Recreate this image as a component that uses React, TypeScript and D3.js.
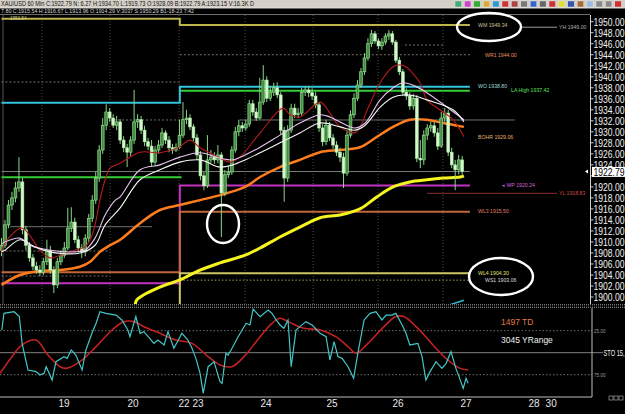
import React from "react";
import * as d3 from "d3";

// ---------------- data ----------------
const opens = [
  1908.5, 1909.4, 1913.1, 1916.7, 1918.0, 1919.8, 1920.9, 1912.2, 1909.4, 1907.1,
  1905.6, 1904.9, 1904.5, 1906.4, 1908.5, 1904.9, 1902.2, 1906.4, 1907.6, 1908.9,
  1912.5, 1913.6, 1910.4, 1908.9, 1908.2, 1910.7, 1914.3, 1917.6, 1921.6, 1926.7,
  1931.2, 1933.6, 1932.5, 1931.2, 1931.8, 1928.5, 1927.1, 1926.3, 1928.5, 1931.8,
  1932.2, 1930.3, 1928.2, 1927.4, 1924.5, 1926.7, 1927.6, 1929.8, 1928.5, 1927.1,
  1926.7, 1927.2, 1929.4, 1932.2, 1932.5, 1930.9, 1928.9, 1925.8, 1922.0, 1920.2,
  1924.9, 1925.4, 1924.9, 1925.8, 1918.9, 1922.2, 1922.7, 1926.7, 1930.0, 1931.1,
  1930.7, 1931.4, 1935.1, 1933.6, 1932.5, 1935.4, 1939.4, 1936.1, 1937.2, 1938.0,
  1936.7, 1930.3, 1921.6, 1930.3, 1934.3, 1933.1, 1933.4, 1937.2, 1937.6, 1937.1,
  1936.5, 1934.9, 1930.7, 1928.2, 1931.2, 1928.9, 1927.6, 1926.3, 1925.4, 1922.5,
  1929.4, 1933.1, 1936.1, 1938.5, 1940.9, 1943.4, 1946.0, 1947.8, 1946.5, 1945.6,
  1946.3, 1947.4, 1947.8, 1946.3, 1943.0, 1940.9, 1937.2, 1936.5, 1934.7, 1936.1,
  1925.2, 1924.9, 1929.4, 1930.7, 1931.1, 1929.8, 1927.4, 1932.5, 1933.4, 1926.3,
  1924.0, 1923.1, 1924.9,
];
const highs = [
  1910.7, 1914.0, 1917.6, 1919.1, 1920.9, 1925.4, 1921.6, 1912.9, 1910.0, 1907.8,
  1906.4, 1905.8, 1907.1, 1910.4, 1909.3, 1905.6, 1907.1, 1908.5, 1910.0, 1916.2,
  1916.3, 1914.4, 1911.1, 1909.6, 1911.4, 1915.1, 1918.5, 1922.7, 1927.6, 1932.5,
  1935.0, 1934.3, 1933.2, 1932.9, 1932.3, 1929.2, 1927.8, 1929.2, 1937.6, 1933.2,
  1932.9, 1931.1, 1928.9, 1928.5, 1927.4, 1928.5, 1930.7, 1930.3, 1929.2, 1927.8,
  1927.9, 1932.2, 1935.4, 1934.0, 1933.2, 1931.4, 1929.6, 1926.5, 1922.7, 1929.4,
  1926.7, 1926.3, 1927.6, 1926.3, 1923.1, 1923.8, 1927.4, 1930.9, 1932.2, 1931.8,
  1932.2, 1935.8, 1935.8, 1934.3, 1939.8, 1942.1, 1940.1, 1938.3, 1938.9, 1939.0,
  1937.2, 1930.9, 1931.2, 1935.1, 1935.1, 1934.3, 1938.0, 1938.3, 1938.3, 1937.9,
  1937.2, 1935.4, 1931.4, 1932.2, 1931.8, 1929.6, 1928.3, 1927.1, 1926.2, 1930.3,
  1933.9, 1937.0, 1939.4, 1941.6, 1944.3, 1947.0, 1948.5, 1948.3, 1947.0, 1947.0,
  1947.9, 1948.5, 1948.3, 1946.7, 1943.6, 1941.4, 1937.9, 1937.2, 1936.9, 1936.7,
  1928.5, 1930.3, 1931.4, 1931.8, 1931.8, 1930.7, 1933.6, 1934.3, 1934.0, 1927.1,
  1924.9, 1925.8, 1925.6,
];
const lows = [
  1907.4, 1908.9, 1912.5, 1915.8, 1917.2, 1919.1, 1911.4, 1908.5, 1906.4, 1904.9,
  1904.2, 1903.8, 1904.0, 1905.8, 1904.2, 1900.7, 1901.6, 1905.8, 1907.1, 1908.5,
  1911.8, 1909.8, 1908.2, 1907.1, 1907.4, 1910.0, 1913.6, 1916.9, 1920.9, 1926.0,
  1930.3, 1931.8, 1930.7, 1930.3, 1927.8, 1926.3, 1923.6, 1925.6, 1927.8, 1930.7,
  1929.6, 1927.4, 1926.7, 1923.8, 1924.0, 1926.0, 1927.1, 1927.8, 1926.3, 1926.0,
  1926.3, 1926.9, 1928.9, 1931.4, 1930.3, 1928.3, 1924.9, 1921.2, 1919.4, 1919.8,
  1924.3, 1924.2, 1924.3, 1910.9, 1918.3, 1921.6, 1922.2, 1926.2, 1929.2, 1930.0,
  1930.2, 1930.9, 1932.9, 1932.0, 1932.2, 1934.9, 1935.4, 1935.6, 1936.5, 1936.1,
  1929.6, 1917.3, 1920.9, 1929.8, 1932.5, 1932.5, 1932.9, 1936.5, 1936.3, 1935.8,
  1934.3, 1930.0, 1927.4, 1927.6, 1928.3, 1926.9, 1925.6, 1924.5, 1919.8, 1922.0,
  1928.9, 1932.5, 1935.6, 1938.0, 1940.3, 1942.9, 1945.4, 1946.0, 1945.0, 1944.9,
  1945.8, 1946.7, 1945.8, 1942.5, 1940.3, 1936.5, 1935.8, 1934.0, 1934.0, 1924.5,
  1923.4, 1924.0, 1928.5, 1930.0, 1929.1, 1926.7, 1927.1, 1931.8, 1925.6, 1923.4,
  1919.4, 1922.3, 1922.2,
];
const closes = [
  1909.4, 1913.1, 1916.7, 1918.0, 1919.8, 1920.9, 1912.2, 1909.4, 1907.1, 1905.6,
  1904.9, 1904.5, 1906.4, 1908.5, 1904.9, 1902.2, 1906.4, 1907.6, 1908.9, 1912.5,
  1913.6, 1910.4, 1908.9, 1908.2, 1910.7, 1914.3, 1917.6, 1921.6, 1926.7, 1931.2,
  1933.6, 1932.5, 1931.2, 1931.8, 1928.5, 1927.1, 1926.3, 1928.5, 1931.8, 1932.2,
  1930.3, 1928.2, 1927.4, 1924.5, 1926.7, 1927.6, 1929.8, 1928.5, 1927.1, 1926.7,
  1927.2, 1929.4, 1932.2, 1932.5, 1930.9, 1928.9, 1925.8, 1922.0, 1920.2, 1924.9,
  1925.4, 1924.9, 1925.8, 1918.9, 1922.2, 1922.7, 1926.7, 1930.0, 1931.1, 1930.7,
  1931.4, 1935.1, 1933.6, 1932.5, 1935.4, 1939.4, 1936.1, 1937.2, 1938.0, 1936.7,
  1930.3, 1921.6, 1930.3, 1934.3, 1933.1, 1933.4, 1937.2, 1937.6, 1937.1, 1936.5,
  1934.9, 1930.7, 1928.2, 1931.2, 1928.9, 1927.6, 1926.3, 1925.4, 1922.5, 1929.4,
  1933.1, 1936.1, 1938.5, 1940.9, 1943.4, 1946.0, 1947.8, 1946.5, 1945.6, 1946.3,
  1947.4, 1947.8, 1946.3, 1943.0, 1940.9, 1937.2, 1936.5, 1934.7, 1936.1, 1925.2,
  1924.9, 1929.4, 1930.7, 1931.1, 1929.8, 1927.4, 1932.5, 1933.4, 1926.3, 1924.0,
  1923.1, 1924.9, 1922.79,
];

// moving averages: [bar index, price]
const maRed = [
  [0, 1908.0], [1.0, 1909.8], [5.9, 1912.5], [11.0, 1908.5], [13.9, 1907.1], [16.8, 1907.6],
  [21.1, 1908.5], [23.9, 1909.1], [25.4, 1910.4], [26.8, 1913.1], [28.2, 1917.6], [29.7, 1921.3],
  [31.1, 1923.4], [34.0, 1924.3], [39.7, 1926.3], [45.4, 1926.2], [50.6, 1927.1], [54.0, 1928.5],
  [56.9, 1927.1], [59.7, 1926.2], [62.6, 1925.2], [65.5, 1924.5], [68.3, 1925.4], [74.1, 1929.8],
  [80.7, 1934.3], [82.7, 1933.1], [85.5, 1932.7], [91.3, 1935.4], [94.1, 1933.4], [97.0, 1930.9],
  [101.5, 1929.9], [105.0, 1934.3], [108.5, 1938.9], [112.2, 1941.8], [115.0, 1942.1],
  [119.9, 1938.9], [121.9, 1935.8], [125.6, 1934.0], [129.4, 1932.2], [132.5, 1929.1],
];
const maPink = [
  [0, 1909.6], [1.0, 1910.0], [5.3, 1910.7], [8.2, 1909.4], [13.9, 1908.5], [21.1, 1908.2],
  [23.9, 1908.5], [26.8, 1910.7], [29.7, 1914.9], [32.5, 1917.5], [34.0, 1918.2], [39.7, 1923.1],
  [45.4, 1924.0], [51.1, 1925.4], [56.9, 1926.2], [62.6, 1925.2], [66.3, 1924.9], [69.8, 1925.8],
  [74.1, 1927.2], [79.8, 1929.4], [85.5, 1931.6], [91.3, 1933.1], [94.1, 1932.7], [97.0, 1931.8],
  [101.3, 1930.7], [104.2, 1931.6], [108.5, 1935.8], [112.2, 1938.0], [115.0, 1938.9],
  [118.5, 1938.3], [121.9, 1937.1], [127.6, 1934.5], [132.5, 1932.2],
];
const maWhite = [
  [0, 1908.2], [1.0, 1908.5], [5.3, 1910.4], [9.6, 1909.1], [13.9, 1908.2], [22.5, 1908.0],
  [26.8, 1909.4], [29.7, 1913.1], [34.0, 1916.2], [39.7, 1921.3], [45.4, 1923.1], [51.1, 1924.5],
  [56.9, 1924.9], [62.6, 1923.6], [66.3, 1924.0], [69.8, 1924.9], [74.1, 1926.2], [79.8, 1928.0],
  [85.5, 1929.8], [91.3, 1931.6], [97.0, 1930.9], [101.3, 1930.3], [104.2, 1931.2],
  [108.5, 1934.5], [112.2, 1936.3], [115.0, 1936.7], [118.5, 1936.5], [121.9, 1935.8],
  [129.4, 1934.0], [132.5, 1931.8],
];
const maOrange = [
  [0, 1902.2], [5.3, 1904.0], [11.0, 1904.7], [16.8, 1904.9], [22.5, 1905.5], [25.4, 1906.4],
  [28.2, 1908.2], [31.1, 1909.4], [34.0, 1910.4], [39.7, 1913.4], [45.4, 1915.8], [51.1, 1916.7],
  [56.9, 1917.6], [62.6, 1918.5], [69.8, 1920.0], [74.1, 1921.8], [79.8, 1923.6], [85.5, 1924.9],
  [91.3, 1926.3], [97.0, 1926.7], [102.7, 1927.2], [107.6, 1929.1], [112.2, 1930.9],
  [117.0, 1932.2], [121.9, 1932.2], [126.5, 1931.6], [132.5, 1930.9],
];
const maYellow = [
  [38.3, 1898.5], [38.8, 1899.5], [45.4, 1901.8], [51.1, 1903.1], [56.9, 1904.9], [62.6, 1906.2],
  [69.8, 1907.6], [74.1, 1908.9], [79.8, 1910.9], [85.5, 1912.7], [91.3, 1914.4], [97.0, 1914.9],
  [102.7, 1916.0], [107.6, 1918.2], [112.2, 1920.0], [117.0, 1920.9], [121.9, 1921.3],
  [126.5, 1921.6], [131.4, 1921.8], [132.5, 1922.0],
];
const extraCyan = [[128.5, 1898.6], [132.5, 1899.4]];

// stochastic (lower panel): [bar index, value]
const stochK = [
  [0.1, 24.2], [0.7, 5.3], [3.6, 3.4], [5.1, 9.0], [5.9, 39.4], [7.6, 69.7], [9.9, 71.5],
  [11.0, 75.3], [12.2, 73.4], [12.8, 65.9], [14.5, 81.0], [15.6, 60.2], [17.9, 54.5], [18.8, 56.4],
  [20.0, 46.9], [21.3, 52.6], [23.1, 69.7], [24.2, 46.9], [25.9, 28.0], [27.1, 16.6], [28.2, 3.4],
  [29.9, 5.3], [32.8, 7.2], [34.5, 12.8], [36.2, 24.2], [36.8, 31.8], [38.5, 9.0], [39.7, 28.0],
  [40.8, 26.1], [43.7, 39.4], [44.8, 35.6], [46.6, 41.2], [47.7, 26.1], [49.4, 45.0], [51.7, 28.0],
  [53.4, 35.6], [54.4, 43.1], [55.7, 56.4], [56.9, 73.4], [57.8, 96.2], [59.2, 65.9], [60.9, 60.2],
  [62.6, 82.9], [63.2, 84.8], [64.3, 50.7], [64.9, 52.6], [65.8, 46.9], [67.8, 31.8], [70.1, 16.6],
  [71.2, 18.5], [72.1, 0.5], [74.1, 9.0], [76.4, 1.5], [77.5, 5.3], [78.7, 12.8], [79.8, 18.5],
  [80.9, 22.3], [82.1, 12.8], [83.0, 65.9], [84.4, 24.2], [85.5, 20.4], [87.2, 14.7], [89.0, 18.5],
  [91.3, 28.0], [93.0, 31.8], [94.1, 58.3], [95.3, 37.5], [96.4, 54.5], [97.6, 56.4], [99.3, 65.9],
  [100.9, 79.1], [102.1, 50.7], [103.9, 12.8], [105.6, 5.3], [107.3, 3.4], [109.0, 12.8],
  [110.2, 7.2], [111.9, 7.2], [113.0, 5.3], [114.8, 18.5], [115.9, 28.0], [117.0, 41.2],
  [119.3, 39.4], [120.5, 54.5], [121.6, 81.0], [122.8, 71.5], [124.5, 60.2], [126.2, 67.8],
  [127.4, 62.1], [128.8, 48.8], [130.2, 67.8], [131.1, 77.2], [132.3, 90.5], [133.1, 79.1],
  [133.7, 84.8],
];
const stochD = [
  [-0.4, 73.4], [3.0, 54.5], [5.9, 41.2], [9.9, 35.6], [13.3, 52.6], [16.8, 65.9], [18.5, 67.8],
  [22.5, 60.2], [27.1, 43.1], [31.7, 24.2], [35.1, 14.7], [38.0, 14.7], [40.8, 20.4], [45.4, 28.0],
  [50.0, 35.6], [54.6, 39.4], [59.2, 54.5], [62.6, 64.0], [66.0, 65.9], [69.5, 54.5], [74.1, 31.8],
  [77.5, 16.6], [79.8, 10.9], [82.1, 14.7], [86.7, 22.3], [91.3, 24.2], [95.8, 31.8], [99.3, 43.1],
  [101.6, 50.7], [105.0, 39.4], [109.6, 20.4], [113.0, 9.0], [115.3, 9.0], [118.8, 20.4],
  [121.1, 29.9], [124.5, 45.0], [127.9, 58.3], [131.4, 67.8], [133.7, 69.7],
];

// weekly pivot levels that step at the weekly roll (bar index)
const stepNames = ["wm", "wo", "wp", "wl3", "wl4"];
const stepBefore = [1950.54, 1935.29, 1902.49, 1904.49, 1897.0];
const stepAfter = [1949.4, 1938.2, 1920.24, 1915.5, 1904.3];
const stepAt = 51.1;
const stepEnd = 134.2;

// flat level segments
const segNames = ["pdh", "wr1", "hh", "g120", "g120d", "g226", "g251", "g276", "ws1", "yl", "yh", "cur", "laL", "laR"];
const segValues = [1939.05, 1944.0, 1945.77, 1932.15, 1932.15, 1912.77, 1908.35, 1903.8, 1903.06, 1918.83, 1949.0, 1922.79, 1921.74, 1937.47];
const segFrom = [0, 51.1, 115.6, 68.3, 31.1, 2.4, 0, 0, 51.1, 121.9, 148.6, 0, 0, 51.1];
const segTo = [51.1, 134.2, 126.5, 147.1, 51.1, 43.1, 31.1, 31.1, 134.2, 159.2, 159.2, 134.2, 51.6, 134.2];

// right-hand level labels
const lvlLabels = ["WM 1949.34", "YH 1949.00", "WR1 1944.00", "WO 1938.80", "LA High 1937.42", "BOHR 1929.06", "\u25C2 WP 1920.24", "YL 1918.83", "WL3 1915.50", "WL4 1904.30", "WS1 1903.06"];
const lvlAt = [1949.4, 1949.0, 1944.0, 1938.2, 1937.47, 1929.06, 1920.24, 1918.83, 1915.5, 1904.3, 1903.06];

const priceTicks = d3.range(1900, 1951, 2);
const dateLabels = ["19", "20", "22", "23", "24", "25", "26", "27", "28", "30"];
const dateIdx = [17.9, 37.7, 52.3, 56.3, 75.8, 94.7, 113.6, 133.1, 152.6, 157.5];
const gridIdx = [11.6, 31.1, 50.9, 69.8, 89.3, 107.9, 126.5];
const stochLevels = [25, 50, 75];

// ---------------- styles ----------------
const stepStyle: Record<string, { c: string; w: number }> = {
  wm: { c: "#bdb54a", w: 2 },
  wo: { c: "#33c3dc", w: 2 },
  wp: { c: "#c233c2", w: 2 },
  wl3: { c: "#c0683a", w: 2 },
  wl4: { c: "#cdc565", w: 2 },
};
const segStyle: Record<string, { c: string; w: number; d?: string }> = {
  pdh: { c: "#7d6e62", w: 1, d: "2,2" },
  wr1: { c: "#7d6e62", w: 1, d: "2,2" },
  hh: { c: "#7d6e62", w: 1, d: "2,2" },
  g120: { c: "#6f6f6f", w: 1 },
  g120d: { c: "#6f6f6f", w: 1, d: "2,2" },
  g226: { c: "#6f6f6f", w: 1 },
  g251: { c: "#6f6f6f", w: 1, d: "2,2" },
  g276: { c: "#6f6f6f", w: 1, d: "2,2" },
  ws1: { c: "#a3a070", w: 1, d: "1.5,2" },
  yl: { c: "#8c2c2c", w: 1 },
  yh: { c: "#9a9a9a", w: 1 },
  cur: { c: "#7a7a7a", w: 1 },
  laL: { c: "#33cc33", w: 2 },
  laR: { c: "#33cc33", w: 2 },
};
const lblColors = ["#c9c59a", "#b0b0b0", "#e8906a", "#9fdede", "#5fe05f", "#e0b070", "#d460d4", "#d04848", "#e08060", "#e8e070", "#dddddd"];
const lblX = [478, 559, 485, 478, 511, 478, 502, 559, 478, 478, 485];
const iconColors = ["#4a7", "#c4c", "#3a3", "#da3", "#39c", "#c33", "#a44", "#777", "#36c", "#666", "#c33", "#dd3", "#35a", "#a63", "#9bd", "#888", "#888", "#c33"];

const W = 625;
const H = 414;

export default function App() {
  const xB = d3.scaleLinear().domain([0, 132]).range([1.5, 1.5 + 132 * 3.49]);
  const yP = d3.scaleLinear().domain([1900, 1950]).range([297, 21.7]);
  const yS = d3.scaleLinear().domain([0, 100]).range([308.7, 396.7]);

  const maLine = d3
    .line<number[]>()
    .x((d) => xB(d[0]))
    .y((d) => yP(d[1]))
    .curve(d3.curveCatmullRom.alpha(0.5));
  const stSmooth = d3
    .line<number[]>()
    .x((d) => xB(d[0]))
    .y((d) => yS(d[1]))
    .curve(d3.curveCatmullRom.alpha(0.5));
  const stLinear = d3
    .line<number[]>()
    .x((d) => xB(d[0]))
    .y((d) => yS(d[1]));
  const stepLine = d3
    .line<number[]>()
    .x((d) => xB(d[0]))
    .y((d) => yP(d[1]))
    .curve(d3.curveStepAfter);

  const bodyW = 2.8;
  const fmt = d3.format(".2f");
  const axisX = 590.5;
  const lastClose = closes[closes.length - 1];
  const boxY = yP(lastClose);
  // the tick label hidden under the current-price box
  const shownTicks = priceTicks.filter((t) => Math.abs(yP(t) - boxY) > 5.5);
  const labelSX = 0.78;

  return (
    <div style={{ width: W, height: H, background: "#000" }}>
      <style>{`html,body{margin:0;padding:0;background:#000;}`}</style>
      <svg width={W} height={H} style={{ display: "block", fontFamily: "'Liberation Sans', Arial, sans-serif" }}>
        <defs>
          <clipPath id="mainClip">
            <rect x={0} y={15} width={590} height={289} />
          </clipPath>
          <clipPath id="stoClip">
            <rect x={0} y={308} width={592} height={89} />
          </clipPath>
        </defs>
        <rect x={0} y={0} width={W} height={H} fill="#000" />

        {/* header bar */}
        <rect x={0} y={0} width={W} height={8} fill="#d4d0c8" />
        <text x={1} y={6.4} fontSize={6.8} fill="#111" textLength={253} lengthAdjust="spacingAndGlyphs">
          XAU/USD 60 Min C:1922.79 N: 6.27 H:1934.70 L:1919.73 O:1928.09 B:1922.79 A:1923.15 V:16.3K D
        </text>
        {iconColors.map((c, i) => (
          <rect key={"ic" + i} x={455 + i * 9.4} y={1} width={6.5} height={6} fill={c} stroke="#eee" strokeWidth={0.4} />
        ))}
        <line x1={0} x2={W} y1={8.2} y2={8.2} stroke="#fff" strokeWidth={0.6} />
        <text x={1} y={12.6} fontSize={5.6} fill="#d8d8d8" textLength={193} lengthAdjust="spacingAndGlyphs">
          7.80 C:1915.54 H:1916.67 L:1913.96 O:1914.29 V:3037 S:1950.29 B1-18-23 7:42
        </text>
        <line x1={0} x2={590} y1={14.5} y2={14.5} stroke="#6e6e6e" strokeWidth={1} />

        {/* main panel */}
        <g clipPath="url(#mainClip)">
          <line x1={3} x2={3} y1={15} y2={304} stroke="#555" strokeWidth={1} />
          {gridIdx.map((g, i) => (
            <line key={"g" + i} x1={xB(g)} x2={xB(g)} y1={15} y2={304} stroke="#5c5c5c" strokeWidth={0.8} strokeDasharray="1,2" />
          ))}
          {segNames.map((n, i) => {
            const s = segStyle[n];
            return (
              <line
                key={"s" + i}
                x1={xB(segFrom[i])}
                x2={xB(segTo[i])}
                y1={yP(segValues[i])}
                y2={yP(segValues[i])}
                stroke={s.c}
                strokeWidth={s.w}
                strokeDasharray={s.d}
              />
            );
          })}
          {stepNames.map((n, i) => (
            <path
              key={"st" + i}
              d={stepLine([
                [0, stepBefore[i]],
                [stepAt, stepAfter[i]],
                [stepEnd, stepAfter[i]],
              ]) || ""}
              fill="none"
              stroke={stepStyle[n].c}
              strokeWidth={stepStyle[n].w}
            />
          ))}

          {/* moving averages below candles */}
          <path d={maLine(maYellow as number[][]) || ""} fill="none" stroke="#f6f41e" strokeWidth={3} />
          <path d={maLine(maOrange as number[][]) || ""} fill="none" stroke="#ff7d1c" strokeWidth={2.5} />
          <path d={maLine(extraCyan as number[][]) || ""} fill="none" stroke="#2fb8c8" strokeWidth={1.5} />

          {/* candles */}
          {closes.map((c, i) => {
            const o = opens[i];
            const x = xB(i);
            const bull = c >= o;
            const top = yP(Math.max(o, c));
            const h = Math.max(1, Math.abs(yP(o) - yP(c)));
            return (
              <g key={"c" + i}>
                <line x1={x} x2={x} y1={yP(highs[i])} y2={yP(lows[i])} stroke="#86d886" strokeWidth={1} />
                <rect
                  x={x - bodyW / 2}
                  y={top}
                  width={bodyW}
                  height={h}
                  fill={bull ? "#3f8f3f" : "#d4f8cc"}
                  stroke={bull ? "#a4eca0" : "#b6f0ae"}
                  strokeWidth={0.6}
                />
              </g>
            );
          })}

          <path d={maLine(maRed as number[][]) || ""} fill="none" stroke="#b41c1c" strokeWidth={1.1} />
          <path d={maLine(maPink as number[][]) || ""} fill="none" stroke="#e9c4ee" strokeWidth={1.1} />
          <path d={maLine(maWhite as number[][]) || ""} fill="none" stroke="#f6f6f6" strokeWidth={1.1} />
        </g>

        {/* tiny label on top level */}
        <text x={10} y={20.3} fontSize={4.6} fill="#c9c58a">1950.54</text>

        {/* level labels */}
        {lvlLabels.map((t, i) => (
          <text key={"l" + i} x={lblX[i]} y={yP(lvlAt[i]) + 1.8} fontSize={5.2} fill={lblColors[i]}>
            {t}
          </text>
        ))}

        {/* ellipses */}
        <ellipse cx={489} cy={27} rx={32} ry={14} fill="none" stroke="#fff" strokeWidth={2.4} />
        <ellipse cx={501} cy={276.5} rx={32} ry={18.5} fill="none" stroke="#fff" strokeWidth={2.4} />
        <ellipse cx={223} cy={224} rx={16} ry={19} fill="none" stroke="#fff" strokeWidth={2.4} />

        {/* price axis */}
        <line x1={axisX} x2={axisX} y1={15} y2={304} stroke="#cfcfcf" strokeWidth={1} />
        {priceTicks.map((t) => (
          <line key={"tk" + t} x1={axisX} x2={axisX + 3} y1={yP(t)} y2={yP(t)} stroke="#cfcfcf" strokeWidth={1} />
        ))}
        {shownTicks.map((t) => (
          <text
            key={"t" + t}
            transform={`translate(593.5,${yP(t) + 4}) scale(${labelSX},1)`}
            fontSize={11}
            fill="#f2f2f2"
          >
            {fmt(t)}
          </text>
        ))}
        <rect x={592} y={boxY - 4.6} width={33} height={10} fill="#fff" />
        <text transform={`translate(593.5,${boxY + 4}) scale(${labelSX},1)`} fontSize={11} fill="#000">
          {fmt(lastClose)}
        </text>
        <path d={`M${585},${boxY} l3,-2 l0,4 z`} fill="#fff" />

        {/* separator between panels */}
        <line x1={0} x2={W} y1={304.8} y2={304.8} stroke="#a8a8a8" strokeWidth={1} strokeDasharray="1,1" />
        <line x1={0} x2={W} y1={307.3} y2={307.3} stroke="#a8a8a8" strokeWidth={1} strokeDasharray="1,1" />

        {/* stochastic panel */}
        {stochLevels.map((v) => (
          <line
            key={"sl" + v}
            x1={0}
            x2={v === 50 ? 603 : 592}
            y1={yS(v)}
            y2={yS(v)}
            stroke={v === 50 ? "#808080" : "#7a7a7a"}
            strokeWidth={v === 50 ? 1 : 0.9}
            strokeDasharray={v === 50 ? undefined : "1.5,2"}
          />
        ))}
        <g clipPath="url(#stoClip)">
          <path d={stSmooth(stochD as number[][]) || ""} fill="none" stroke="#c42222" strokeWidth={1.6} />
          <path d={stLinear(stochK as number[][]) || ""} fill="none" stroke="#45c6c6" strokeWidth={1.2} />
        </g>
        <line x1={592} x2={592} y1={308} y2={397} stroke="#bdbdbd" strokeWidth={1} />
        <line x1={0} x2={592} y1={397} y2={397} stroke="#bdbdbd" strokeWidth={1} />
        <text x={594} y={yS(25) + 1.8} fontSize={4.6} fill="#9a9a9a">25.00</text>
        <text x={594} y={yS(75) + 1.8} fontSize={4.6} fill="#9a9a9a">75.00</text>
        <text transform={`translate(603.5,${yS(50) + 3.5}) scale(0.6,1)`} fontSize={9.5} fill="#f0f0f0">STO 15,</text>
        <text x={501} y={325} fontSize={8.5} fill="#e07a48">1497 TD</text>
        <text x={501} y={342.5} fontSize={8.5} fill="#f0f0f0">3045 YRange</text>
        {[0, 1, 2].map((i) => (
          <rect key={"b" + i} x={609 + i * 5} y={396} width={4} height={4} fill="none" stroke="#bbb" strokeWidth={0.6} />
        ))}

        {/* date axis */}
        {dateLabels.map((d, i) => (
          <text key={"d" + i} x={xB(dateIdx[i])} y={406.5} fontSize={10} fill="#e6e6e6" textAnchor="middle">
            {d}
          </text>
        ))}
      </svg>
    </div>
  );
}
